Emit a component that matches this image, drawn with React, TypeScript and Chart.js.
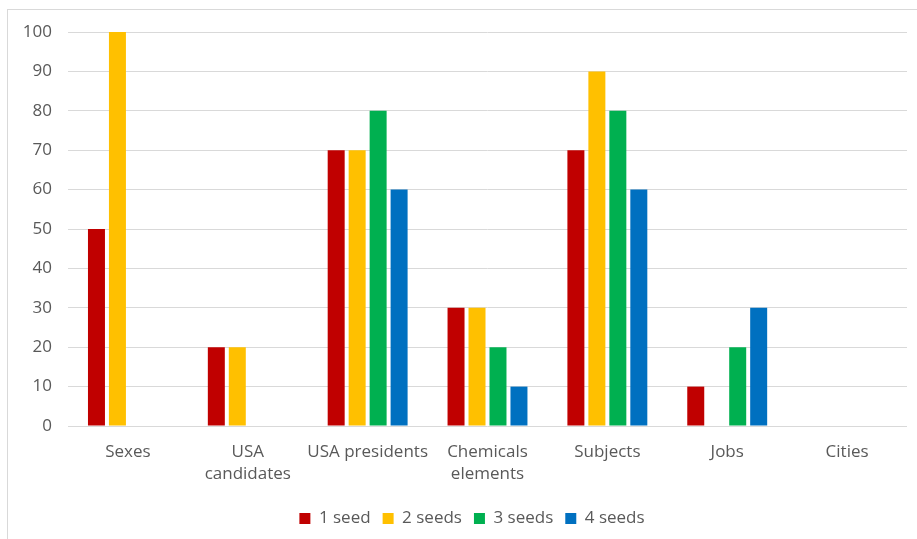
import React, { useEffect, useRef } from "react";
import { Chart, registerables } from "chart.js";

Chart.register(...registerables);

const categories: (string | string[])[] = [
  "Sexes",
  ["USA", "candidates"],
  "USA presidents",
  ["Chemicals", "elements"],
  "Subjects",
  "Jobs",
  "Cities",
];

const seriesNames = ["1 seed", "2 seeds", "3 seeds", "4 seeds"];

const oneSeed = [50, 20, 70, 30, 70, 10, null];
const twoSeeds = [100, 20, 70, 30, 90, null, null];
const threeSeeds = [null, null, 80, 20, 80, 20, null];
const fourSeeds = [null, null, 60, 10, 60, 30, null];

const seriesColors = ["#C00000", "#FFC000", "#00B050", "#0070C0"];

const yTicks = { min: 0, max: 100, step: 10 };

const FONT = "'Open Sans', 'Noto Sans', sans-serif";
const FONT_SIZE = 17;
const TEXT = "#595959";
const GRID = "#D9D9D9";

// width of the widest value label, used to right-align the mirrored y ticks
function widestLabel(): number {
  const ctx = document.createElement("canvas").getContext("2d");
  if (!ctx) return 29;
  ctx.font = `${FONT_SIZE}px ${FONT}`;
  return ctx.measureText(String(yTicks.max)).width;
}

export default function App() {
  const canvasRef = useRef<HTMLCanvasElement | null>(null);

  useEffect(() => {
    const canvas = canvasRef.current;
    if (!canvas) return;
    const values = [oneSeed, twoSeeds, threeSeeds, fourSeeds];
    const labelGap = 16;
    const chart = new Chart(canvas, {
      type: "bar",
      data: {
        labels: categories,
        datasets: seriesNames.map((name, i) => ({
          label: name,
          data: values[i],
          backgroundColor: seriesColors[i],
          borderWidth: 0,
          categoryPercentage: 0.7,
          barPercentage: 0.81,
        })),
      },
      options: {
        responsive: false,
        animation: false,
        devicePixelRatio: 1,
        layout: { padding: { left: 37, right: 10, top: 32, bottom: 2 } },
        plugins: {
          tooltip: { enabled: false },
          legend: {
            position: "bottom",
            labels: {
              boxWidth: 11,
              boxHeight: 11,
              padding: 12,
              color: TEXT,
              font: { family: FONT, size: FONT_SIZE },
            },
          },
        },
        scales: {
          x: {
            grid: { display: false },
            border: { display: false },
            ticks: {
              color: TEXT,
              font: { family: FONT, size: FONT_SIZE, lineHeight: 1.3 },
              padding: 7,
              maxRotation: 0,
              autoSkip: false,
            },
            afterFit: (scale: any) => {
              scale.height = 72;
            },
          },
          y: {
            min: yTicks.min,
            max: yTicks.max,
            grid: { color: GRID, lineWidth: 1, drawTicks: false },
            border: { display: false },
            ticks: {
              stepSize: yTicks.step,
              color: TEXT,
              font: { family: FONT, size: FONT_SIZE },
              mirror: true,
              crossAlign: "far",
              padding: -(labelGap + widestLabel()),
            },
            afterFit: (scale: any) => {
              scale.width = 31;
            },
          },
        },
      },
    });
    return () => chart.destroy();
  }, []);

  return (
    <div
      style={{
        position: "fixed",
        left: 0,
        top: 0,
        width: 917,
        height: 539,
        overflow: "hidden",
        background: "#ffffff",
      }}
    >
      <div
        style={{
          position: "absolute",
          left: 7,
          top: 9,
          width: 930,
          height: 560,
          border: `1px solid ${GRID}`,
          boxSizing: "border-box",
        }}
      />
      <canvas
        ref={canvasRef}
        width={917}
        height={539}
        style={{ position: "absolute", left: 0, top: 0 }}
      />
    </div>
  );
}
